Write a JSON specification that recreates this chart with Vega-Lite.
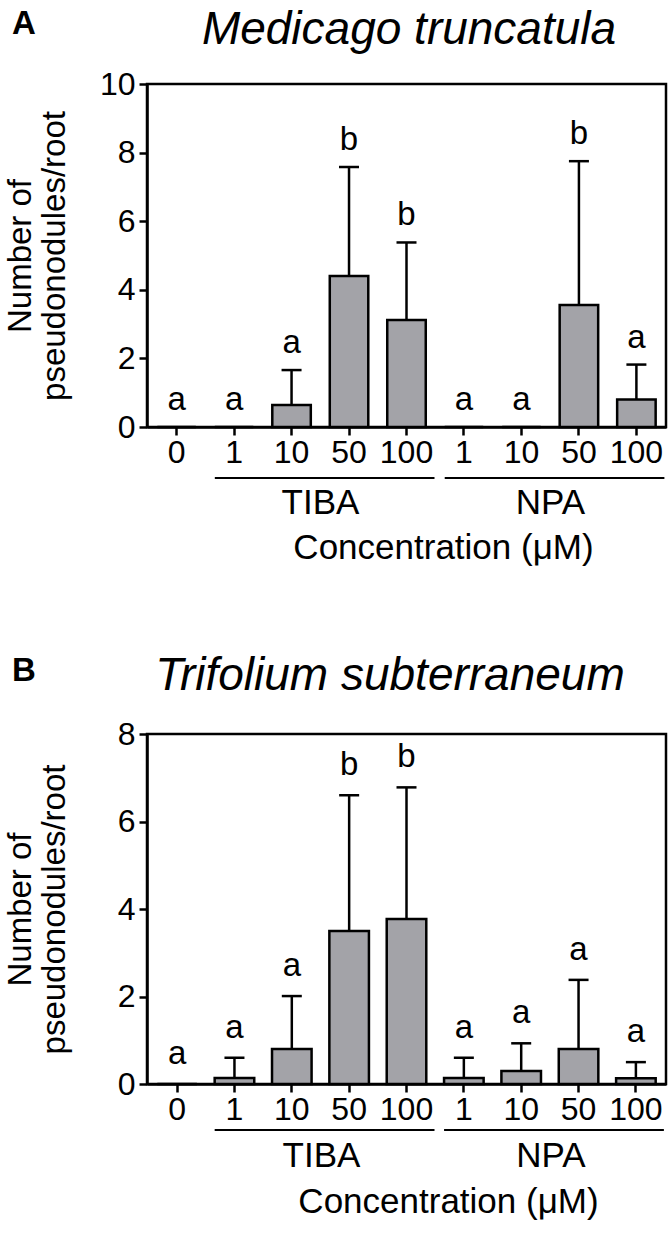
{
  "$schema": "https://vega.github.io/schema/vega-lite/v6.json",
  "background": "white",
  "padding": {"left": 2, "top": 5, "right": 0, "bottom": 0},
  "bounds": "flush",
  "spacing": 307,
  "datasets": {
    "medicago": [
      {"cat": "C0", "mean": 0, "upper": 0, "letter": "a"},
      {"cat": "T1", "mean": 0, "upper": 0, "letter": "a"},
      {"cat": "T10", "mean": 0.64, "upper": 1.66, "letter": "a"},
      {"cat": "T50", "mean": 4.4, "upper": 7.58, "letter": "b"},
      {"cat": "T100", "mean": 3.12, "upper": 5.38, "letter": "b"},
      {"cat": "N1", "mean": 0, "upper": 0, "letter": "a"},
      {"cat": "N10", "mean": 0, "upper": 0, "letter": "a"},
      {"cat": "N50", "mean": 3.56, "upper": 7.75, "letter": "b"},
      {"cat": "N100", "mean": 0.8, "upper": 1.82, "letter": "a"}
    ],
    "trifolium": [
      {"cat": "C0", "mean": 0, "upper": 0, "letter": "a"},
      {"cat": "T1", "mean": 0.14, "upper": 0.6, "letter": "a"},
      {"cat": "T10", "mean": 0.8, "upper": 2.01, "letter": "a"},
      {"cat": "T50", "mean": 3.5, "upper": 6.6, "letter": "b"},
      {"cat": "T100", "mean": 3.77, "upper": 6.78, "letter": "b"},
      {"cat": "N1", "mean": 0.14, "upper": 0.6, "letter": "a"},
      {"cat": "N10", "mean": 0.3, "upper": 0.93, "letter": "a"},
      {"cat": "N50", "mean": 0.8, "upper": 2.38, "letter": "a"},
      {"cat": "N100", "mean": 0.13, "upper": 0.5, "letter": "a"}
    ],
    "groups": [
      {"group": "TIBA", "from": "T1", "to": "T100", "mid": "T10"},
      {"group": "NPA", "from": "N1", "to": "N100", "mid": "N10"}
    ],
    "panelA": [{"panel": "A", "species": "Medicago truncatula"}],
    "panelB": [{"panel": "B", "species": "Trifolium subterraneum"}]
  },
  "config": {
    "font": "Liberation Sans",
    "view": {"stroke": "black", "strokeWidth": 2.5},
    "axis": {
      "domainColor": "black", "domainWidth": 2.5,
      "tickColor": "black", "tickWidth": 2.5, "tickSize": 8,
      "labelColor": "black", "labelFontSize": 32, "labelFont": "Liberation Sans",
      "titleColor": "black", "titleFontSize": 33, "titleFont": "Liberation Sans", "titleFontWeight": "normal",
      "grid": false
    }
  },
  "vconcat": [
    {
      "width": 519,
      "height": 343,
      "layer": [
        {
          "data": {"name": "medicago"},
          "mark": {"type": "bar", "fill": "#a3a3a8", "stroke": "black", "strokeWidth": 2.5},
          "encoding": {
            "x": {"field": "cat", "type": "nominal",
              "scale": {"domain": ["C0","T1","T10","T50","T100","N1","N10","N50","N100"], "paddingInner": 0.33, "paddingOuter": 0.18},
              "axis": {"labelExpr": "slice(datum.label, 1)", "labelAngle": 0, "labelPadding": 2,
                "title": "Concentration (μM)", "titleX": 296, "titleY": 120, "titleAlign": "center", "titleBaseline": "middle", "titleFontSize": 35}},
            "y": {"field": "mean", "type": "quantitative",
              "scale": {"domain": [0, 10], "nice": false},
              "axis": {"values": [0,2,4,6,8,10], "title": ["Number of", "pseudonodules/root"], "titlePadding": 28, "titleLineHeight": 34, "labelPadding": 4}}
          }
        },
        {
          "data": {"name": "medicago"},
          "transform": [{"filter": "datum.upper > datum.mean"}],
          "mark": {"type": "rule", "stroke": "black", "strokeWidth": 2.5},
          "encoding": {
            "x": {"field": "cat", "type": "nominal"},
            "y": {"field": "mean", "type": "quantitative"},
            "y2": {"field": "upper"}
          }
        },
        {
          "data": {"name": "medicago"},
          "transform": [{"filter": "datum.upper > datum.mean"}],
          "mark": {"type": "tick", "color": "black", "size": 20, "thickness": 2.5, "opacity": 1},
          "encoding": {
            "x": {"field": "cat", "type": "nominal"},
            "y": {"field": "upper", "type": "quantitative"}
          }
        },
        {
          "data": {"name": "medicago"},
          "mark": {"type": "text", "fontSize": 33, "baseline": "alphabetic", "dy": -17, "color": "black"},
          "encoding": {
            "x": {"field": "cat", "type": "nominal"},
            "y": {"field": "upper", "type": "quantitative"},
            "text": {"field": "letter"}
          }
        },
        {
          "data": {"name": "groups"},
          "mark": {"type": "rule", "stroke": "black", "strokeWidth": 2, "clip": false, "xOffset": 0, "x2Offset": 28},
          "encoding": {
            "x": {"field": "from", "type": "nominal", "bandPosition": 0},
            "x2": {"field": "to"},
            "y": {"value": 394}
          }
        },
        {
          "data": {"name": "groups"},
          "mark": {"type": "text", "fontSize": 35, "baseline": "middle", "color": "black"},
          "encoding": {
            "x": {"field": "mid", "type": "nominal", "bandPosition": 1.25},
            "y": {"value": 419},
            "text": {"field": "group"}
          }
        },
        {
          "data": {"name": "panelA"},
          "mark": {"type": "text", "fontSize": 33, "fontWeight": "bold", "align": "left", "baseline": "alphabetic", "color": "black"},
          "encoding": {"x": {"value": -135}, "y": {"value": -50}, "text": {"field": "panel"}}
        },
        {
          "data": {"name": "panelA"},
          "mark": {"type": "text", "fontSize": 46, "fontStyle": "italic", "align": "center", "baseline": "alphabetic", "color": "black"},
          "encoding": {"x": {"value": 262}, "y": {"value": -40}, "text": {"field": "species"}}
        }
      ]
    },
    {
      "width": 519,
      "height": 350,
      "layer": [
        {
          "data": {"name": "trifolium"},
          "mark": {"type": "bar", "fill": "#a3a3a8", "stroke": "black", "strokeWidth": 2.5},
          "encoding": {
            "x": {"field": "cat", "type": "nominal",
              "scale": {"domain": ["C0","T1","T10","T50","T100","N1","N10","N50","N100"], "paddingInner": 0.31, "paddingOuter": 0.18},
              "axis": {"labelExpr": "slice(datum.label, 1)", "labelAngle": 0, "labelPadding": 2,
                "title": "Concentration (μM)", "titleX": 301, "titleY": 117, "titleAlign": "center", "titleBaseline": "middle", "titleFontSize": 35}},
            "y": {"field": "mean", "type": "quantitative",
              "scale": {"domain": [0, 8], "nice": false},
              "axis": {"values": [0,2,4,6,8], "title": ["Number of", "pseudonodules/root"], "titlePadding": 46, "titleLineHeight": 34, "labelPadding": 4}}
          }
        },
        {
          "data": {"name": "trifolium"},
          "transform": [{"filter": "datum.upper > datum.mean"}],
          "mark": {"type": "rule", "stroke": "black", "strokeWidth": 2.5},
          "encoding": {
            "x": {"field": "cat", "type": "nominal"},
            "y": {"field": "mean", "type": "quantitative"},
            "y2": {"field": "upper"}
          }
        },
        {
          "data": {"name": "trifolium"},
          "transform": [{"filter": "datum.upper > datum.mean"}],
          "mark": {"type": "tick", "color": "black", "size": 20, "thickness": 2.5, "opacity": 1},
          "encoding": {
            "x": {"field": "cat", "type": "nominal"},
            "y": {"field": "upper", "type": "quantitative"}
          }
        },
        {
          "data": {"name": "trifolium"},
          "mark": {"type": "text", "fontSize": 33, "baseline": "alphabetic", "dy": -20, "color": "black"},
          "encoding": {
            "x": {"field": "cat", "type": "nominal"},
            "y": {"field": "upper", "type": "quantitative"},
            "text": {"field": "letter"}
          }
        },
        {
          "data": {"name": "groups"},
          "mark": {"type": "rule", "stroke": "black", "strokeWidth": 2, "clip": false, "xOffset": 0, "x2Offset": 28},
          "encoding": {
            "x": {"field": "from", "type": "nominal", "bandPosition": 0},
            "x2": {"field": "to"},
            "y": {"value": 396}
          }
        },
        {
          "data": {"name": "groups"},
          "mark": {"type": "text", "fontSize": 35, "baseline": "middle", "color": "black"},
          "encoding": {
            "x": {"field": "mid", "type": "nominal", "bandPosition": 1.25},
            "y": {"value": 422},
            "text": {"field": "group"}
          }
        },
        {
          "data": {"name": "panelB"},
          "mark": {"type": "text", "fontSize": 33, "fontWeight": "bold", "align": "left", "baseline": "alphabetic", "color": "black"},
          "encoding": {"x": {"value": -135}, "y": {"value": -53}, "text": {"field": "panel"}}
        },
        {
          "data": {"name": "panelB"},
          "mark": {"type": "text", "fontSize": 46, "fontStyle": "italic", "align": "center", "baseline": "alphabetic", "color": "black"},
          "encoding": {"x": {"value": 243}, "y": {"value": -44}, "text": {"field": "species"}}
        }
      ]
    }
  ]
}
